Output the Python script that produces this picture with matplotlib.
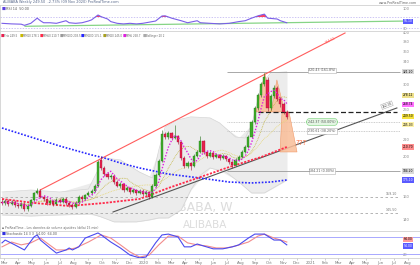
import numpy as np
import pandas as pd
import matplotlib
matplotlib.use("Agg")
import matplotlib.pyplot as plt
import matplotlib.dates as mdates
from matplotlib.patches import Polygon
from matplotlib.ticker import FixedLocator, NullLocator, FuncFormatter, NullFormatter
from matplotlib.transforms import blended_transform_factory

plt.rcParams['font.family'] = ['DejaVu Sans']

# ---------------- data ----------------
first_week = "2019-02-25"

opens = [155.0, 153.9, 155.7, 153.1, 154.8, 152.2, 151.4, 153.1, 148.8, 151.4,
         156.5, 162.8, 164.7, 159.2, 157.4, 153.9, 155.7, 153.1, 156.5, 154.8,
         157.4, 153.9, 152.2, 150.5, 153.9, 159.2, 157.4, 160.9, 162.8, 164.7,
         169.3, 195.9, 187.3, 181.1, 178.1, 179.1, 173.2, 169.3, 171.2, 165.5,
         167.4, 163.7, 165.5, 162.8, 164.7, 161.9, 163.7, 159.2, 169.3, 180.0,
         194.8, 226.6, 222.9, 227.9, 221.6, 224.1, 216.8, 198.1, 189.4, 192.6,
         189.4, 200.4, 204.9, 218.0, 204.9, 200.4, 203.7, 199.2, 201.5, 198.1,
         200.4, 197.0, 193.7, 190.4, 195.9, 199.2, 204.9, 210.7, 222.9, 242.5,
         262.3, 282.3, 300.1, 307.1, 262.3, 280.6, 293.5, 275.9, 268.3, 256.5]
closes = [153.9, 155.7, 153.1, 154.8, 152.2, 151.4, 153.1, 148.8, 151.4, 156.5,
          162.8, 164.7, 159.2, 157.4, 153.9, 155.7, 153.1, 156.5, 154.8, 157.4,
          153.9, 152.2, 150.5, 153.9, 159.2, 157.4, 160.9, 162.8, 164.7, 169.3,
          193.7, 187.3, 181.1, 178.1, 179.1, 173.2, 169.3, 171.2, 165.5, 167.4,
          163.7, 165.5, 162.8, 164.7, 161.9, 163.7, 159.2, 169.3, 180.0, 194.8,
          226.6, 222.9, 227.9, 221.6, 224.1, 216.8, 198.1, 189.4, 192.6, 189.4,
          200.4, 204.9, 218.0, 204.9, 200.4, 203.7, 199.2, 201.5, 198.1, 200.4,
          197.0, 193.7, 190.4, 195.9, 199.2, 204.9, 210.7, 222.9, 242.5, 262.3,
          282.3, 300.1, 312.2, 262.3, 280.6, 293.5, 275.9, 268.3, 256.5, 249.5]
highs = [157.5, 157.8, 157.0, 156.9, 156.5, 154.2, 155.0, 154.5, 153.0, 157.6,
         164.0, 167.5, 166.0, 160.8, 158.6, 157.2, 156.8, 158.0, 158.2, 159.0,
         158.7, 155.4, 153.6, 155.2, 160.5, 161.2, 162.3, 164.6, 166.5, 171.0,
         195.5, 200.4, 188.9, 183.0, 181.5, 180.6, 174.8, 173.4, 172.6, 169.3,
         168.8, 167.3, 166.9, 166.4, 166.0, 165.5, 164.9, 170.8, 181.8, 196.6,
         231.9, 229.5, 230.1, 229.6, 238.4, 225.9, 218.5, 200.2, 194.9, 194.0,
         202.3, 206.8, 224.0, 219.6, 206.3, 205.6, 205.0, 203.6, 203.0, 202.2,
         201.9, 198.5, 195.2, 197.7, 201.0, 206.8, 212.6, 225.0, 244.8, 264.9,
         285.0, 303.2, 319.3, 312.0, 284.0, 298.6, 296.0, 278.5, 270.9, 258.7]
lows = [152.0, 152.5, 151.5, 151.8, 150.3, 149.5, 150.0, 146.8, 147.5, 150.6,
        155.8, 161.5, 157.9, 155.9, 152.4, 152.6, 151.7, 152.2, 153.5, 153.6,
        152.5, 150.6, 148.5, 149.6, 152.8, 156.0, 156.2, 159.7, 161.2, 163.5,
        168.0, 185.6, 179.5, 176.2, 176.4, 171.5, 167.9, 167.6, 164.0, 164.2,
        162.2, 162.5, 161.0, 161.5, 160.4, 160.6, 157.4, 158.5, 168.2, 178.8,
        193.5, 220.6, 220.8, 219.5, 219.8, 214.5, 196.0, 187.6, 187.0, 185.1,
        188.2, 198.7, 203.5, 203.0, 198.5, 199.0, 197.4, 197.7, 196.3, 196.9,
        195.2, 191.9, 187.3, 189.2, 194.4, 198.0, 203.3, 209.2, 221.0, 240.3,
        259.8, 279.5, 297.4, 258.5, 259.6, 278.0, 273.0, 264.2, 253.2, 246.3]

# Bollinger band
bb_up_weeks = [0, 9, 18, 27, 30, 32, 37, 43, 47, 49, 51, 55, 59, 65, 68, 73, 76, 78, 79, 81, 84, 89]
bb_upper = [163.7, 165.5, 163.7, 166.4, 185.1, 198.1, 195.9, 183.0, 177.0, 207.2, 235.7,
            245.3, 249.5, 248.1, 241.2, 222.9, 221.6, 238.4, 255.1, 298.6, 319.4, 321.2]
bb_lo_weeks = [0, 9, 18, 28, 31, 35, 42, 46, 49, 52, 56, 59, 62, 65, 70, 74, 78, 82, 89]
bb_lower = [143.9, 143.1, 143.9, 144.7, 142.3, 138.4, 138.4, 139.9, 141.5, 141.5, 148.0,
            165.5, 180.0, 187.3, 183.0, 173.2, 162.8, 162.8, 175.0]

# long moving averages
ma_red_weeks = [0, 10, 21, 32, 43, 52, 62, 71, 81, 89]
ma_red = [157.4, 153.9, 151.3, 153.9, 157.4, 167.4, 178.0, 188.3, 199.2, 210.7]
ma_blue_weeks = [0, 9, 18, 28, 32, 37, 43, 52, 62, 71, 78, 84, 89]
ma_blue = [234.4, 222.8, 211.9, 201.5, 198.1, 192.6, 187.3, 181.0, 177.0, 173.1, 172.2, 173.1, 175.1]

# RSI
rsi_weeks = [0, 3, 6, 7, 9, 10, 11, 12, 13, 15, 17, 19, 20, 21, 23, 25, 27, 28, 30, 31,
             33, 34, 36, 38, 40, 42, 44, 46, 48, 50, 51, 53, 55, 56, 58, 61, 62, 65, 68,
             71, 74, 76, 78, 80, 82, 83, 84, 86, 87, 89]
rsi_vals = [48, 46, 45, 41, 48, 57, 66, 57, 50, 50, 48, 54, 57, 50, 48, 50, 56, 60, 77, 71,
            63, 54, 48, 46, 48, 46, 48, 52, 56, 73.5, 74, 66, 60, 57, 50, 57, 50, 48, 46,
            48, 54, 57, 66, 74, 80, 66, 65, 63, 57, 50]
rsi_trend_weeks = [7.2, 127.5]
rsi_trend_vals = [37.7, 56.1]

# Stochastic
stk_weeks = [0, 1, 4, 7, 10, 11, 12, 15, 17, 20, 21, 22, 24, 26, 30, 31, 34, 37, 40, 43,
             45, 48, 50, 52, 55, 57, 59, 61, 63, 66, 69, 72, 74, 77, 79, 82, 84, 85, 87, 89]
stk_k = [61, 71, 54, 36, 82, 89, 71, 43, 25, 36, 43, 36, 47, 78, 96, 89, 64, 43, 18, 8,
         11, 61, 89, 92, 82, 47, 47, 57, 50, 40, 40, 47, 54, 78, 92, 92, 78, 71, 71, 54]
std_weeks = [0, 3, 6, 9, 12, 14, 17, 20, 23, 27, 31, 34, 37, 40, 43, 46, 49, 52, 55, 58,
             61, 64, 67, 70, 73, 77, 80, 82, 85, 88, 89]
std_d = [47, 64, 54, 61, 78, 61, 36, 36, 43, 64, 89, 78, 54, 29, 11, 18, 54, 85, 85, 61,
         54, 50, 43, 43, 50, 64, 85, 92, 78, 68, 64]

# drawn objects (week index, price)
red_channel_w = [11.9, 107.2]
red_channel_p = [165.5, 399.5]
black_trend_w = [34.7, 123.4]
black_trend_p = [146.3, 262.3]
neck_level = 256.5
fib_levels = [321.2, 242.5, 230.5, 184.2]
fib_texts = ["320.43 (161.8%)", "242.37 (50.00%)", "230.61 (38.20%)", "184.21 (0.00%)"]
support_levels = [159.1, 145.5]
hs_left = [(79.4, 256.5), (82.2, 319.4), (84.4, 256.5)]
hs_right = [(84.1, 256.5), (85.9, 307.1), (88.4, 256.5)]
hs_target = [(87.5, 256.5), (89.7, 256.5), (92.2, 204.9), (86.9, 204.9)]

price_ticks = [140, 160, 200, 220, 260, 300, 340, 360, 380, 400]

# ---------------- figure ----------------
W, H = 420, 265
fig = plt.figure(figsize=(4.2, 2.65), dpi=100)
fig.patch.set_facecolor('white')

def fy(py):
    return 1 - py / H

ax_r = fig.add_axes([0, fy(31), 1, 26 / H])
ax = fig.add_axes([0, fy(231), 1, 200 / H], sharex=ax_r)
ax_s = fig.add_axes([0, fy(258), 1, 27 / H], sharex=ax_r)

t0 = mdates.date2num(pd.Timestamp(first_week))

def wx(w):
    return t0 + 7.0 * np.asarray(w, dtype=float)

for a in (ax_r, ax, ax_s):
    for s in a.spines.values():
        s.set_color('#c8c8c8')
        s.set_linewidth(0.5)
    a.set_facecolor('white')

ax.set_xlim(t0 - 4.375, t0 + 914.4)
x_end = wx(124.4)

# ---- main panel ----
ax.set_yscale('log')
ax.set_ylim(131.5, 404.0)

# watermark
ax.text(wx(63.5), 149.7, "BABA, W", fontsize=9, color='#dcdcdc', ha='center', va='center', zorder=0)
ax.text(wx(63.5), 136.2, "ALIBABA", fontsize=7.5, color='#dcdcdc', ha='center', va='center', zorder=0)

# bollinger band
ax.fill_between(wx(bb_up_weeks), bb_upper,
                np.interp(bb_up_weeks, bb_lo_weeks, bb_lower), color='#ececec', lw=0, zorder=1)
ax.fill_between(wx(bb_lo_weeks), np.interp(bb_lo_weeks, bb_up_weeks, bb_upper),
                bb_lower, color='#ececec', lw=0, zorder=1)
ax.plot(wx(bb_up_weeks), bb_upper, color='#d4d4d4', lw=0.5, zorder=1.2)
ax.plot(wx(bb_lo_weeks), bb_lower, color='#d4d4d4', lw=0.5, zorder=1.2)

# horizontal levels
ax.hlines(support_levels, ax.get_xlim()[0], x_end, colors='#a8a8a8', lw=0.6, linestyles=(0, (3, 3)), zorder=1.5)
for lv in support_levels:
    ax.text(wx(123.6), lv * 1.006, f"{lv:.2f}", fontsize=2.3, color='#777777', ha='right', va='bottom')
fib_start = wx(70.3)
for k, (lv, txt) in enumerate(zip(fib_levels, fib_texts)):
    solid = k in (0, 3)
    ax.hlines(lv, fib_start, x_end, colors='#9a9a9a' if solid else '#bdbdbd', lw=0.6,
              linestyles='-' if solid else (0, (1, 1)), zorder=1.5)
    if k == 1:
        bbox = dict(boxstyle='round,pad=0.5,rounding_size=1.2', fc='#e3f6e3', ec='#8fd88f', lw=0.5)
    else:
        bbox = dict(boxstyle='square,pad=0.25', fc='white', ec='#b0b0b0', lw=0.4)
    ax.text(wx(100), lv * (1.008 if k == 0 else 1.0), txt, fontsize=2.3, color='#555555',
            ha='center', va='center', bbox=bbox, zorder=6)

# channel lines
ax.plot(wx(red_channel_w), red_channel_p, color='#ff5c5c', lw=0.8, zorder=2)
ax.text(wx(102.5), 384, "384.51", fontsize=2.3, color='#ff5c5c', rotation=27, ha='center', va='center')
ax.plot(wx(black_trend_w), black_trend_p, color='#555555', lw=0.8, zorder=2)
ax.text(wx(120.3), 266.5, "262.35", fontsize=2.2, color='#333333', rotation=20, ha='center', va='center',
        bbox=dict(boxstyle='square,pad=0.15', fc='white', ec='#999999', lw=0.3))
ax.hlines(neck_level, wx(80), wx(123.4), colors='#222222', lw=0.9, linestyles=(0, (4, 2)), zorder=2.5)

# H&S
for poly in (hs_left, hs_right, hs_target):
    pts = [(wx(w), p) for w, p in poly]
    ax.add_patch(Polygon(pts, closed=True, fc='#f9bd98', ec='#f0905a', lw=0.4, alpha=0.85, zorder=2.2))
ax.text(wx(93.6), 216.0, "???", fontsize=5, color='#ff7043', ha='center', va='center', zorder=6)

# moving averages
cs = pd.Series(closes)
ma5 = cs.rolling(5, min_periods=1).mean().values
ma10 = cs.rolling(10, min_periods=1).mean().values
ma20 = cs.rolling(20, min_periods=1).mean().values
xc = wx(np.arange(len(closes)))
ax.plot(wx(ma_blue_weeks), ma_blue, color='#2626ff', lw=1.2, ls=(0, (1, 1)), zorder=2.4)
ax.plot(wx(ma_red_weeks), ma_red, color='#ff2a4a', lw=1.3, ls=(0, (1.2, 0.8)), zorder=2.4)
ax.plot(xc, ma20, color='#e6d77a', lw=0.6, ls=(0, (1, 1)), zorder=2.3)
ax.plot(xc, ma10, color='#c4b84a', lw=0.6, ls=(0, (1, 1)), zorder=2.3)

# candles
o = np.array(opens); c = np.array(closes); h = np.array(highs); l = np.array(lows)
upc = c >= o
body_col = np.where(upc, '#3fae2a', '#e8204e')
edge_col = np.where(upc, '#1f6f14', '#9a0f30')
ax.vlines(xc, l, h, colors=edge_col, lw=0.4, zorder=3)
ax.bar(xc, np.abs(c - o), bottom=np.minimum(o, c), width=4.8, color=body_col,
       edgecolor=edge_col, lw=0.25, zorder=3.1)
ax.plot(xc, ma5, color='#e020e0', lw=1.0, ls=(0, (1, 1.2)), zorder=3.5)

# price axis
ax.yaxis.set_major_locator(FixedLocator(price_ticks))
ax.yaxis.set_minor_locator(NullLocator())
ax.yaxis.set_major_formatter(FuncFormatter(lambda v, p: f"{v:.0f}"))
ax.yaxis.set_minor_formatter(NullFormatter())
ax.tick_params(axis='y', which='both', direction='in', length=0, pad=-12.5, labelsize=2.6,
               labelcolor='#8a8a8a', right=True, left=False, labelright=True, labelleft=False)
ax.tick_params(axis='x', which='both', bottom=False, labelbottom=False)

tr = blended_transform_factory(ax.transAxes, ax.transData)
def value_box(a, trans, v, txt, fc, tc='black'):
    a.text(408 / W, v, txt, transform=trans, fontsize=2.2, color=tc, ha='center', va='center',
           bbox=dict(boxstyle='square,pad=0.2', fc=fc, ec='none'), zorder=7)

# label positions nudged apart like the platform's own collision avoidance
value_box(ax, tr, fib_levels[0], f"{fib_levels[0]:.2f}", '#d9d9d9')
value_box(ax, tr, ma10[-1] * 1.012, f"{ma10[-1]:.2f}", '#eee08a')
value_box(ax, tr, ma5[-1] * 0.996, f"{ma5[-1]:.2f}", '#ff70ff')
value_box(ax, tr, closes[-1] * 1.004, f"{closes[-1]:.2f}", '#f5e23c')
value_box(ax, tr, ma20[-1] * 0.975, f"{ma20[-1]:.2f}", '#fff3a8')
value_box(ax, tr, ma_red[-1], f"{ma_red[-1]:.2f}", '#ff8c8c')
value_box(ax, tr, fib_levels[3], f"{fib_levels[3]:.2f}", '#d9d9d9')
value_box(ax, tr, ma_blue[-1], f"{ma_blue[-1]:.2f}", '#5a5aff', 'white')

# ---- RSI panel ----
ax_r.set_ylim(21.3, 111.7)
rw = wx(rsi_weeks)
rv = np.array(rsi_vals, dtype=float)
ax_r.hlines([70, 30], ax.get_xlim()[0], ax.get_xlim()[1], colors='#b9aef0', lw=0.5, linestyles=(0, (2, 2)))
ax_r.fill_between(rw, rv, 70, where=rv > 70, interpolate=True, color='#ff4060', lw=0)
ax_r.plot(wx(rsi_trend_weeks), rsi_trend_vals, color='#86d486', lw=0.9)
ax_r.plot(rw, rv, color='#7a5fe8', lw=0.8)
ax_r.yaxis.set_major_locator(FixedLocator([100, 30]))
ax_r.yaxis.set_major_formatter(FuncFormatter(lambda v, p: f"{v:.0f}"))
ax_r.tick_params(axis='y', direction='in', length=0, pad=-12.5, labelsize=2.6, labelcolor='#8a8a8a',
                 right=True, left=False, labelright=True, labelleft=False)
ax_r.tick_params(axis='x', bottom=False, labelbottom=False)
trr = blended_transform_factory(ax_r.transAxes, ax_r.transData)
value_box(ax_r, trr, rsi_trend_vals[1] - 1, f"{rsi_trend_vals[1]:.2f}", '#5a5aff', 'white')
ax_r.text(2 / W, 0.93, "\u25a0", transform=ax_r.transAxes, fontsize=3, color='#5a3fe0', va='top')
ax_r.text(6 / W, 0.93, "RSI 14  " + f"{rsi_vals[-1]:.2f}", transform=ax_r.transAxes, fontsize=2.4,
          color='#555555', va='top')

# ---- stochastic panel ----
ax_s.set_ylim(7.65, 102.9)
ax_s.hlines([80, 20], ax.get_xlim()[0], ax.get_xlim()[1], colors='#9a9aff', lw=0.6)
ax_s.plot(wx(std_weeks), std_d, color='#f28c8c', lw=0.8)
ax_s.plot(wx(stk_weeks), stk_k, color='#4a4aee', lw=0.8)
ax_s.yaxis.set_major_locator(FixedLocator([20]))
ax_s.yaxis.set_major_formatter(FuncFormatter(lambda v, p: f"{v:.0f}"))
ax_s.tick_params(axis='y', direction='in', length=0, pad=-12.5, labelsize=2.6, labelcolor='#8a8a8a',
                 right=True, left=False, labelright=True, labelleft=False)
trs = blended_transform_factory(ax_s.transAxes, ax_s.transData)
value_box(ax_s, trs, std_d[-1] + 9, f"{std_d[-1]:.2f}", '#ff9a9a')
value_box(ax_s, trs, stk_k[-1] - 4, f"{stk_k[-1]:.2f}", '#5a5aff', 'white')
ax_s.text(2 / W, 0.97, "\u25a0", transform=ax_s.transAxes, fontsize=3, color='#3030e0', va='top')
ax_s.text(6 / W, 0.97, f"Stochastic 14 3 3  {stk_k[-1]:.2f}  {std_d[-1]:.2f}", transform=ax_s.transAxes,
          fontsize=2.3, color='#555555', va='top')
fig.text(2 / W, fy(228.5), "\u25aa ProRealTime - Les données de volume ajustées (délai 15 min)", fontsize=2.2,
         color='#666666', va='center')

ax_s.xaxis.set_major_locator(mdates.MonthLocator())
def month_fmt(v, pos):
    d = mdates.num2date(v)
    return str(d.year) if d.month == 1 else d.strftime('%b')
ax_s.xaxis.set_major_formatter(FuncFormatter(month_fmt))
ax_s.tick_params(axis='x', which='major', length=1.2, width=0.4, color='#aaaaaa', pad=0.8,
                 labelsize=2.8, labelcolor='#777777')

# ---- header texts ----
fig.text(3 / W, fy(2.5), "ALIBABA Weekly 249.50  -2.73% (09 Nov 2020) ProRealTime.com", fontsize=2.5,
         color='#556688', va='center')
fig.text(417 / W, fy(2.5), "www.ProRealTime.com", fontsize=2.4, color='#666666', va='center', ha='right')

legend_items = [("Prix", '#e8204e', f"{closes[-1]:.1f}"), ("MM10", '#c8b800', f"{ma10[-1]:.1f}"),
                ("MM50", '#ff2a4a', f"{ma_red[-1]:.1f}"), ("MM100", '#9a9a9a', "203.5"),
                ("MM200", '#2626ff', f"{ma_blue[-1]:.1f}"), ("MM20", '#a8a020', f"{ma20[-1]:.1f}"),
                ("MM5", '#e020e0', f"{ma5[-1]:.1f}"), ("Bollinger 20 2", '#aaaaaa', "")]
legend_x = [1, 20, 40, 60, 81, 103, 123, 143]
for (lab, col, val), lx in zip(legend_items, legend_x):
    fig.text(lx / W, fy(36), "\u25a0", fontsize=2.6, color=col, va='center')
    fig.text((lx + 3.2) / W, fy(36), f"{lab} {val}".strip(), fontsize=1.9, color='#666666', va='center')

fig.savefig("out.png", dpi=100, facecolor='white')
